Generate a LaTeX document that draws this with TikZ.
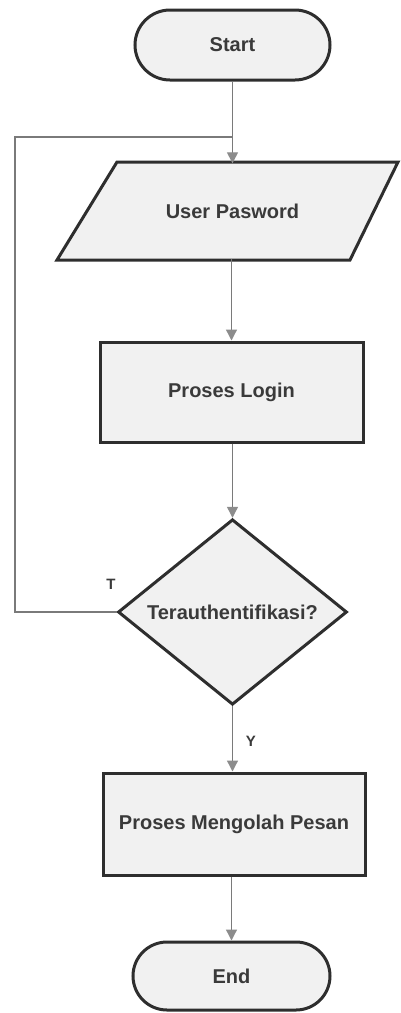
\documentclass[tikz,border=0pt]{standalone}
\usepackage{fontspec}
\setmainfont{Liberation Sans}
\usetikzlibrary{shapes.geometric,shapes.misc,arrows.meta}
\definecolor{bord}{HTML}{2E2E2E}
\definecolor{fillc}{HTML}{F1F1F1}
\definecolor{linec}{HTML}{7A7A7A}
\definecolor{arrc}{HTML}{8C8C8C}
\definecolor{txt}{HTML}{3A3A3A}
\tikzset{
  shp/.style={draw=bord, fill=fillc, line width=3pt, text=txt, inner sep=0pt,
    font=\fontsize{20}{22}\selectfont\bfseries},
  term/.style={shp, rounded rectangle, minimum width=195pt, minimum height=70pt},
  iotext/.style={text=txt, inner sep=0pt, font=\fontsize{20}{22}\selectfont\bfseries,
    minimum height=98pt},
  iobox/.style={draw=bord, fill=fillc, line width=3pt, line join=miter},
  proc/.style={shp, rectangle},
  dec/.style={shp, diamond, minimum width=229pt, minimum height=180pt},
  conn/.style={draw=linec, line width=1.3pt, -{Triangle[width=11pt,length=11pt,fill=arrc,color=arrc]}},
  plain/.style={draw=linec, line width=1.3pt},
  lbl/.style={text=txt, font=\fontsize{15}{17}\selectfont\bfseries, inner sep=0pt}
}
\begin{document}
\begin{tikzpicture}[x=1pt,y=-1pt]
\useasboundingbox (0,0) rectangle (400,1013);
\node[term] (start) at (232.5,45) {Start};
\draw[iobox] (117,162) -- (398,162) -- (350,260) -- (57,260) -- cycle;
\node[iotext] (user) at (232.5,211) {User Pasword};
\node[proc, minimum width=263pt, minimum height=100pt] (login) at (231.5,392) {Proses Login};
\node[dec] (auth) at (232.5,612) {Terauthentifikasi?};
\node[proc, minimum width=262pt, minimum height=102pt] (olah) at (234,824) {Proses Mengolah Pesan};
\node[term, minimum width=197pt, minimum height=68pt] (end) at (231.5,976) {End};
\coordinate (join) at (232.5,137);
\coordinate (loopx) at (15,0);
\node[lbl] (tlab) at (111,584) {T};
\node[lbl] (ylab) at (251,741) {Y};
\draw[plain] (start.south) -- (join);
\draw[conn] (join) -- ([yshift=-1.5pt]user.north -| join);
\draw[conn] ([yshift=1.5pt]user.south -| login.north) -- (login.north);
\draw[conn] (login.south -| auth.north) -- (auth.north);
\draw[conn] (auth.south) -- (olah.north -| auth.south);
\draw[conn] (olah.south -| end.north) -- (end.north);
\draw[plain] (auth.west) -- (auth.west -| loopx) |- (join);
\end{tikzpicture}
\end{document}
